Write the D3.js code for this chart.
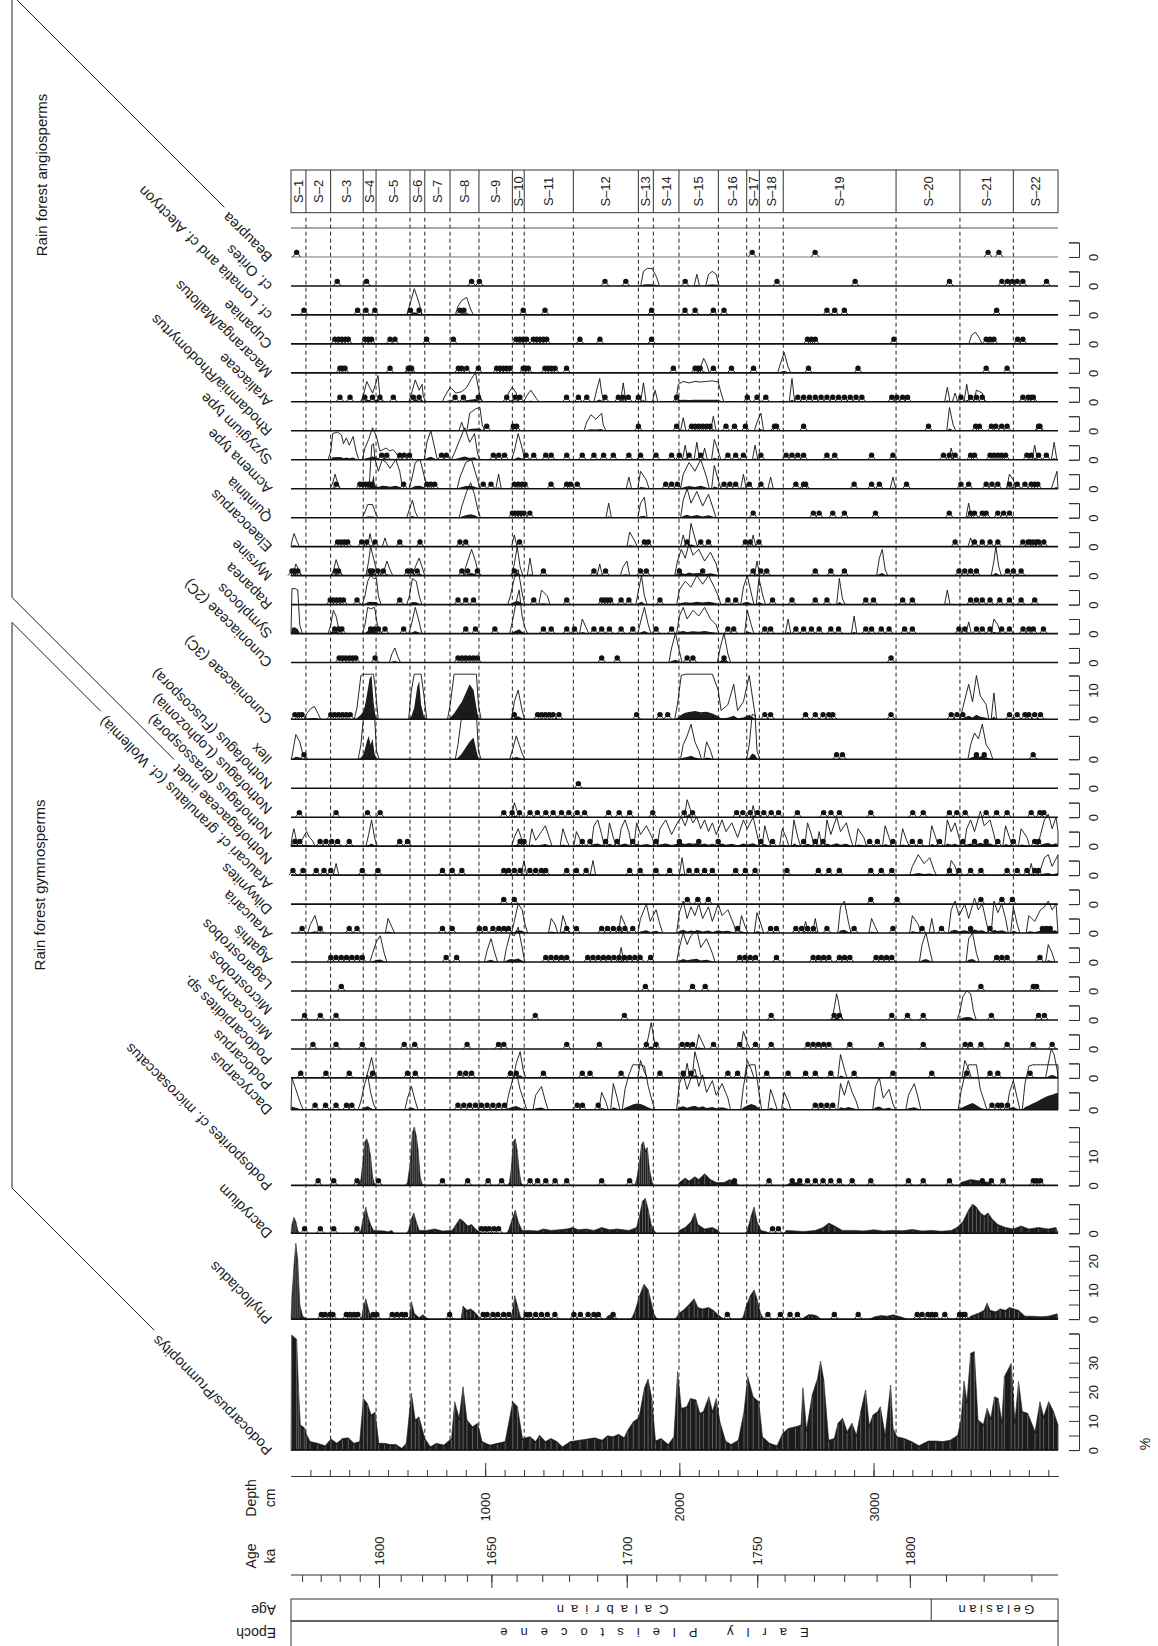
<!DOCTYPE html>
<html>
<head>
<meta charset="utf-8">
<script src="https://cdn.jsdelivr.net/npm/d3@7"></script>
<style>
  body { margin: 0; background: #fff; }
</style>
</head>
<body>
<div id="chart"></div>
<script>
/* CONSTANTS AND GLOBALS */
const width = 1158, height = 1646;
const FONT = "'Liberation Sans', Arial, Helvetica, sans-serif";
const pxPerPct = 2.914;   // vertical px per 1 % pollen
const rowGap = 14.4;
const topLine = 228;
const exagFactor = 10, exagClip = 45;

/* ZONES, AXES */
const zoneNames = ["S–1","S–2","S–3","S–4","S–5","S–6","S–7","S–8","S–9","S–10","S–11",
  "S–12","S–13","S–14","S–15","S–16","S–17","S–18","S–19","S–20","S–21","S–22"];
const zoneBounds = [77,204,372,438,613,689,819,968,1140,1201,1454,1789,1866,1998,2201,2347,2412,2535,3116,3445,3720];
const depthMajor = [1000, 2000, 3000];
const ageTicks = [1560,1570,1580,1590,1600,1610,1620,1630,1640,1650,1660,1670,1680,1690,1700,
  1710,1720,1730,1740,1750,1760,1770,1780,1790,1800,1810,1820,1830];
const ageTickDepths = [57,153,251,354,453,565,675,792,906,1032,1162,1294,1432,1577,1729,
  1881,2001,2134,2263,2401,2542,2693,2849,3016,3187,3373,3567,3813];
const ageMajor = [1600, 1650, 1700, 1750, 1800];
const stageNames = ["Calabrian", "Gelasian"];
const stageBound = 3297;
const epochName = "Early Pleistocene";

/* TAXON LABELS */
const taxonLabels = ["Beaupreа","cf. Orites","cf. Lomatia and cf. Alectryon","Cupaniae","Macaranga/Mallotus",
  "Araliaceae","Rhodamnia/Rhodomyrtus","Syzygium type","Acmena type","Quintinia","Elaeocarpus","Myrsine",
  "Rapanea","Symplocos","Cunoniaceae (2C)","Cunoniaceae (3C)","Ilex","Nothofagus (Fuscospora)",
  "Nothofagus (Lophozonia)","Nothofagus (Brassospora)","Nothofagaceae indet",
  "Araucari cf. granulatus (cf. Wollemia)","Dilwynites","Araucaria","Agathis","Lagarostrobos",
  "Microstrobos","Microcachrys","Podocarpidites sp.","Podocarpus","Dacrycarpus",
  "Podosporites cf. microsaccatus","Dacrydium","Phyllocladus","Podocarpus/Prumnopitys"];
const groupNames = ["Rain forest angiosperms", "Rain forest gymnosperms"];

/* DATA: dots = presence (depth cm), vals = [depth cm, %] */
const beaupreaDots = [29,2375,2699,3590,3646];
const oritesDots = [238,389,930,970,1617,1724,2030,2503,2905,3391,3661,3690,3715,3740,3769,3891];
const oritesVals = [[1815,0.5],[1835,0.6],[1860,0.6],[1883,0.3],[2090,0.4],[2150,0.4],[2170,0.5],[2190,0.4]];
const lomatiaDots = [67,343,386,432,615,660,870,890,1196,1308,1857,2029,2081,2175,2230,2760,2800,2850,3634];
const lomatiaVals = [[610,0.3],[635,0.9],[660,0.4],[860,0.3],[880,0.5],[905,0.6],[925,0.2]];
const cupaniaeDots = [226,245,262,280,295,381,398,415,510,535,698,836,1159,1178,1196,1213,1248,1265,1283,1300,1317,
  1488,1591,1857,2660,2680,2700,3105,3580,3600,3620,3742,3769];
const cupaniaeVals = [[3505,0.3],[3525,0.4],[3545,0.2]];
const macarangaDots = [252,265,278,510,604,612,621,862,879,905,965,1059,1076,1093,1110,1128,1196,1209,1222,1308,
  1325,1342,1360,1419,1969,2081,2094,2107,2175,2268,2382,2665,2920,3580,3688];
const macarangaVals = [[2110,0.2],[2125,0.5],[2140,0.3],[2520,0.3],[2540,0.7],[2560,0.2]];
const araliaDots = [252,304,380,420,458,527,630,660,845,888,965,1111,1154,1179,1419,1480,1523,1617,1686,1710,1737,
  1789,1986,2350,2400,2445,2610,2640,2670,2700,2730,2760,2790,2820,2850,2880,2910,2940,3094,3120,3150,3175,
  3450,3500,3530,3560,3769,3796,3812,3823];
const araliaVals = [[372,0.2],[390,0.7],[405,0.5],[420,0.3],[435,0.6],[448,0.9],[458,0.2],[621,0.3],[640,0.75],
  [660,0.4],[675,0.6],[681,0.2],[793,0.2],[820,0.5],[850,0.3],[880,0.35],[905,0.5],[930,0.8],[950,1.0],[973,0.2],
  [1120,0.3],[1140,0.5],[1160,0.3],[1213,0.2],[1235,0.4],[1265,0.1],[1574,0.4],[1590,0.8],[1600,0.3],[1711,0.65],
  [1815,0.65],[1875,0.4],[1995,0.6],[2020,0.7],[2050,0.65],[2080,0.7],[2110,0.68],[2140,0.7],[2170,0.72],
  [2200,0.68],[2215,0.3],[2580,0.8],[3380,0.5],[3420,0.3],[3480,0.6],[3530,0.4],[3560,0.3]];
const rhodamniaDots = [1008,1145,1162,1789,1986,2063,2081,2100,2120,2140,2158,2240,2284,2340,2490,2500,2640,3283,
  3526,3545,3607,3630,3660,3688,3850,3857];
const rhodamniaVals = [[879,0.3],[920,0.6],[950,0.75],[973,0.8],[985,0.2],[1150,0.2],[1523,0.3],[1545,0.55],
  [1570,0.4],[1600,0.6],[1608,0.2],[2020,0.45],[2175,0.5],[2400,0.3],[2420,0.6],[3391,0.8],[3410,0.2]];
const syzygiumDots = [467,493,560,583,610,775,800,1042,1070,1100,1210,1250,1312,1340,1420,1500,1560,1610,1660,
  1740,1800,1880,1960,2000,2050,2110,2250,2290,2330,2420,2550,2580,2610,2640,2760,2800,2990,3100,3360,3390,
  3420,3500,3520,3600,3620,3640,3660,3680,3790,3812,3850,3890];
const syzygiumVals = [[205,0.3],[215,0.9],[240,0.95],[260,0.85],[270,0.55],[285,0.75],[300,0.5],[320,0.8],[335,0.3],
  [381,0.4],[400,0.7],[420,1.1],[440,0.8],[458,0.3],[490,0.4],[510,0.3],[525,0.35],[545,0.2],[700,0.6],[720,1.0],
  [740,0.4],[840,0.2],[870,0.7],[895,1.1],[920,0.6],[945,0.9],[961,0.2],[1150,0.3],[1170,0.9],[1190,0.4],
  [2030,0.5],[2090,0.6],[2130,0.4],[2180,0.7],[2200,0.3],[2390,0.5],[3400,0.4],[3830,0.5],[3930,0.6]];
const acmenaDots = [233,355,370,385,400,411,580,700,720,740,990,1030,1150,1170,1190,1205,1339,1420,1440,1474,
  1930,1960,1990,2230,2260,2290,2360,2420,2600,2640,2650,2900,2990,3030,3170,3450,3490,3580,3610,3640,3700,
  3740,3780,3812,3830,3846];
const acmenaVals = [[215,0.2],[227,0.5],[240,0.2],[416,1.5],[425,4.8],[433,1.0],[450,0.6],[470,1.0],[490,0.9],
  [510,0.7],[540,1.0],[560,0.6],[570,0.2],[621,0.3],[640,0.9],[665,1.0],[691,0.3],[870,0.4],[900,0.9],[930,1.0],
  [961,0.3],[1069,0.5],[1740,0.4],[1800,0.6],[1830,0.3],[2020,0.5],[2050,0.9],[2080,0.6],[2110,1.0],[2140,0.4],
  [2180,0.8],[2200,0.3],[2330,0.5],[2470,0.4],[3100,0.4],[3700,0.5],[3720,0.3],[3930,0.3],[3945,0.6]];
const quintiniaDots = [1140,1155,1170,1185,1200,1230,2380,2690,2720,2790,2850,3010,3390,3500,3520,3560,3580,3640,3670,3700];
const quintiniaVals = [[381,0.2],[395,0.45],[420,0.45],[433,0.2],[610,0.3],[625,0.6],[640,0.2],[880,0.4],[905,0.9],
  [925,1.2],[945,0.8],[961,0.3],[1636,0.5],[1800,0.5],[1820,0.7],[2020,0.6],[2040,1.0],[2060,0.5],[2090,0.9],
  [2120,0.4],[2150,0.8],[2175,0.3],[3490,0.5]];
const elaeocarpusDots = [240,258,275,292,364,390,433,560,664,870,900,1177,1820,1840,2040,2110,2150,2340,2365,2410,
  3420,3520,3560,3600,3640,3769,3796,3806,3823,3840,3850,3877];
const elaeocarpusVals = [[5,0.2],[16,0.45],[30,0.2],[400,0.2],[407,0.45],[415,0.2],[484,0.3],[1150,0.4],[1744,0.5],
  [1770,0.2],[2020,0.4],[2060,0.8],[2080,0.3],[2380,0.4],[3500,0.3]];
const myrsineDots = [5,18,35,230,245,407,420,448,475,600,620,650,880,910,960,1150,1300,1560,1620,1800,1830,2000,
  2120,2380,2420,2450,2700,2780,2850,3440,3470,3500,3530,3690,3720,3760];
const myrsineVals = [[25,0.4],[40,0.2],[220,0.2],[232,0.55],[250,0.2],[400,0.5],[410,1.0],[425,0.6],[440,0.2],
  [480,0.2],[494,0.5],[510,0.2],[640,0.3],[660,0.6],[675,0.3],[900,0.3],[930,0.9],[950,0.5],[961,0.2],[1150,0.4],
  [1165,1.0],[1180,0.3],[1231,0.6],[1590,0.4],[1710,0.3],[1730,0.5],[1990,0.5],[2010,0.9],[2030,0.6],[2050,1.1],
  [2070,0.7],[2100,0.9],[2130,0.5],[2160,0.8],[2190,0.4],[2400,0.5],[3030,0.6],[3045,0.9],[3060,0.2],[3620,0.5],
  [3630,1.0],[3645,0.3]];
const rapaneaDots = [202,218,235,252,270,340,560,860,900,940,1250,1420,1600,1615,1630,1645,1700,1740,1900,2250,
  2290,2480,2580,2700,2760,2960,3000,3150,3200,3500,3530,3560,3600,3650,3700,3760,3830];
const rapaneaVals = [[381,0.3],[395,0.8],[410,1.0],[425,0.9],[440,0.9],[450,0.3],[610,0.3],[625,0.9],[645,0.8],
  [660,0.3],[1130,0.3],[1150,0.9],[1170,1.2],[1190,0.4],[1290,0.5],[1320,0.3],[1790,0.5],[1805,1.0],[1820,0.3],
  [2000,0.5],[2030,0.8],[2060,0.6],[2090,1.0],[2120,0.7],[2150,1.0],[2180,0.6],[2200,0.3],[2330,0.6],[2350,1.0],
  [2370,0.4],[2410,0.9],[2430,0.3],[2824,0.9],[2840,0.2],[3380,0.5]];
const symplocosDots = [225,245,262,410,430,450,484,580,900,950,1050,1300,1340,1420,1460,1560,1600,1640,1700,1760,
  1880,1960,2250,2280,2440,2470,2600,2640,2680,2720,2780,2820,2960,2990,3040,3080,3160,3200,3440,3470,3530,
  3560,3600,3660,3700,3770,3800,3823,3875];
const symplocosVals = [[5,2],[20,2.2],[35,1.5],[45,0.3],[205,0.3],[218,0.8],[232,0.6],[245,0.2],[381,0.3],[395,0.9],
  [410,0.85],[430,0.9],[445,0.3],[620,0.3],[640,0.9],[660,0.4],[1140,0.4],[1160,1.1],[1175,1.5],[1190,0.6],
  [1205,0.2],[1500,0.5],[1520,0.2],[1800,0.4],[1820,0.9],[1840,0.3],[2000,0.6],[2020,0.9],[2040,0.5],[2070,0.8],
  [2100,0.6],[2130,0.9],[2160,0.5],[2190,0.3],[2350,0.8],[2370,0.3],[2560,0.5],[2900,0.6],[3490,0.4],[3620,0.5],
  [3640,0.3]];
const cuno2Dots = [248,265,282,300,318,334,433,860,880,900,920,940,960,1600,1680,2040,2070,2230,3090];
const cuno2Vals = [[520,0.3],[535,0.5],[550,0.2],[1960,0.5],[1980,1.0],[2000,0.4],[2210,0.5],[2230,1.0],[2250,0.3]];
const cuno3Dots = [20,40,57,205,225,245,265,285,305,1150,1270,1290,1310,1330,1350,1380,1780,1900,1940,2440,2470,
  2650,2700,2740,2770,2790,3090,3400,3430,3460,3700,3740,3780,3800,3830,3860];
const cuno3Vals = [[82,0.2],[100,0.35],[120,0.44],[139,0.2],[340,0.4],[360,1.5],[375,3],[385,6],[395,10],[405,14],
  [415,15],[425,6],[435,1],[620,1],[635,4],[650,11],[660,13],[670,5],[685,0.8],[820,0.5],[840,2],[860,4],[880,6],
  [900,9],[920,12],[940,10],[955,4],[965,0.5],[1150,0.6],[1170,1.0],[1190,0.3],[1990,0.5],[2010,1.5],[2030,2.2],
  [2050,2.5],[2080,2.8],[2110,2.4],[2140,2.6],[2170,2],[2200,1],[2215,0.3],[2250,0.5],[2280,1.2],[2300,0.3],
  [2330,0.6],[2360,1.5],[2380,0.6],[3460,0.4],[3490,1.2],[3510,0.6],[3530,1.5],[3550,0.8],[3580,0.5],[3620,0.9]];
const ilexDots = [67,2810,2840,3530,3570,3822];
const ilexVals = [[5,0.1],[25,0.85],[45,0.6],[60,0.2],[360,0.5],[375,2],[390,6],[400,8],[410,5],[420,7],[430,2],
  [440,0.3],[860,0.5],[880,2],[900,4],[920,6],[940,7.5],[955,3],[965,0.3],[1140,0.3],[1160,0.8],[1175,0.5],
  [1190,0.2],[2020,0.5],[2040,0.8],[2060,1.2],[2080,0.6],[2100,0.3],[2140,0.6],[2160,0.3],[2360,0.5],[2375,2.0],
  [2390,1.5],[2400,0.3],[3500,0.5],[3520,0.9],[3540,0.7],[3560,1.2],[3580,0.5],[3600,0.3]];
const fuscosporaDots = [1480];
const lophozoniaDots = [43,232,394,459,1096,1139,1177,1231,1269,1312,1350,1393,1431,1474,1512,1636,1690,1744,1863,
  2025,2068,2295,2327,2365,2403,2435,2473,2511,2608,2743,2781,2824,2986,3202,3256,3391,3429,3472,3580,3634,
  3688,3812,3857,3877];
const lophozoniaVals = [[1150,0.5],[1165,0.2],[2040,0.6],[2055,0.3],[2380,0.4]];
const brassosporaDots = [20,45,150,180,210,240,300,560,600,1180,1200,1500,1540,1620,1680,1760,1880,2000,2100,2200,
  2420,2480,2640,2700,2740,2980,3020,3100,3200,3240,3340,3460,3520,3580,3640,3720,3830,3850];
const brassosporaVals = [[5,0.3],[15,0.6],[28,0.2],[55,0.2],[80,0.5],[95,0.3],[110,0.2],[400,0.4],[415,0.9],[430,0.3],
  [1150,0.3],[1170,0.6],[1190,0.2],[1240,0.6],[1260,0.2],[1290,0.5],[1310,0.7],[1330,0.3],[1400,0.6],[1420,0.2],
  [1470,0.5],[1490,0.2],[1560,0.7],[1580,0.9],[1600,0.4],[1640,0.8],[1660,0.3],[1700,0.6],[1720,0.9],[1740,0.5],
  [1780,0.8],[1800,0.4],[1830,0.7],[1860,0.3],[1900,0.6],[1930,0.9],[1960,0.4],[1990,0.8],[2010,1.0],[2030,0.7],
  [2050,1.1],[2070,0.8],[2090,1.0],[2110,0.6],[2130,0.9],[2150,0.5],[2170,0.8],[2190,0.4],[2220,0.9],[2240,0.5],
  [2270,0.8],[2300,0.3],[2330,0.9],[2350,0.6],[2380,1.0],[2400,0.4],[2440,0.7],[2460,0.2],[2530,0.6],[2550,0.3],
  [2590,0.9],[2610,0.3],[2660,0.8],[2680,0.4],[2720,0.5],[2760,0.9],[2780,0.4],[2810,1.0],[2830,0.5],[2860,0.8],
  [2880,0.3],[2920,0.6],[2950,0.3],[3060,0.7],[3080,0.3],[3150,0.6],[3170,0.2],[3300,0.7],[3320,0.3],[3380,0.9],
  [3400,0.5],[3420,0.8],[3440,0.3],[3480,0.6],[3500,0.9],[3520,0.5],[3550,1.2],[3570,0.7],[3600,0.9],[3620,0.4],
  [3680,0.7],[3700,0.3],[3760,0.6],[3790,0.3],[3860,0.4],[3880,0.9],[3900,1.1],[3920,0.6],[3940,1.0],[3950,0.5]];
const nothoIndetDots = [10,62,130,170,205,367,448,780,830,880,1096,1120,1150,1180,1230,1260,1290,1312,1420,1470,
  1520,1744,1798,1880,1950,2050,2090,2130,2170,2290,2340,2390,2554,2716,2770,2824,2986,3040,3094,3391,3440,
  3500,3553,3688,3740,3790,3830,3850];
const nothoIndetVals = [[232,0.4],[1200,0.5],[1555,0.5],[2014,0.6],[3200,0.3],[3230,0.7],[3260,0.4],[3290,0.6],
  [3310,0.2],[3400,0.5],[3420,0.3],[3812,0.4],[3860,0.2],[3880,0.6],[3900,0.7],[3920,0.3],[3935,0.5],[3950,0.7]];
const araucariaceaeDots = [1096,1150,2041,2095,2149,2986,3121,3553,3661,3715];
const dilwynitesDots = [57,150,300,340,780,830,970,1000,1040,1070,1096,1120,1420,1470,1600,1630,1660,1690,1720,
  1760,2300,2470,2500,2600,2630,2660,2690,2760,2900,3100,3250,3350,3500,3600,3870,3890,3910];
const dilwynitesVals = [[100,0.3],[124,0.6],[140,0.2],[500,0.5],[520,0.2],[1150,0.4],[1170,1.0],[1190,0.8],
  [1205,0.3],[1340,0.5],[1360,0.3],[1400,0.6],[1420,0.2],[1700,0.6],[1720,0.3],[1800,0.5],[1830,1.0],[1850,0.4],
  [1880,0.8],[1900,0.3],[2000,0.7],[2020,1.1],[2040,0.5],[2060,0.9],[2080,0.6],[2100,1.0],[2120,0.5],[2150,0.9],
  [2170,0.4],[2200,1.0],[2220,0.6],[2250,0.8],[2280,0.3],[2320,0.6],[2340,0.2],[2400,0.7],[2420,0.3],[2650,0.4],
  [2700,0.5],[2830,0.9],[2850,1.1],[2870,0.4],[2990,0.5],[3010,0.2],[3200,0.6],[3230,0.3],[3300,0.5],[3400,0.8],
  [3420,1.1],[3440,0.6],[3470,1.0],[3490,0.5],[3520,1.2],[3540,0.8],[3560,1.0],[3580,0.4],[3620,1.1],[3640,0.7],
  [3660,1.0],[3680,0.5],[3720,0.9],[3740,0.3],[3800,0.6],[3830,0.4],[3860,0.8],[3880,0.9],[3900,1.1],[3920,0.8],
  [3940,1.0]];
const araucariaDots = [205,232,259,286,313,340,367,799,853,1312,1339,1366,1393,1420,1528,1555,1582,1609,1636,1663,
  1690,1717,1744,1771,1798,1852,2311,2338,2365,2392,2500,2689,2716,2743,2770,2824,2851,2878,3013,3040,3067,
  3094,3634,3661,3688,3857];
const araucariaVals = [[420,0.3],[440,0.7],[460,0.9],[480,0.3],[1010,0.4],[1030,0.8],[1050,0.3],[1110,0.5],
  [1130,1.0],[1150,0.9],[1170,1.2],[1190,0.5],[1700,0.5],[2000,0.5],[2020,1.0],[2040,0.6],[2060,0.9],[2090,1.1],
  [2110,0.5],[2140,0.8],[2170,0.3],[3250,0.6],[3270,1.0],[3290,0.4],[3490,0.8],[3510,1.0],[3530,0.3],[3900,0.6],
  [3920,0.3]];
const agathisDots = [259,1825,2068,2133,3553,3823,3840];
const lagarostrobosDots = [70,151,232,1258,1717,2473,2797,2824,3094,3175,3256,3607,3850,3880];
const lagarostrobosVals = [[2800,0.5],[2810,0.9],[2820,0.6],[2830,0.2],[3445,0.3],[3460,0.8],[3480,1.0],
  [3500,0.9],[3515,0.3]];
const microstrobosDots = [113,232,367,583,637,907,1069,1096,1420,1588,1830,1880,2014,2041,2068,2176,2311,2392,
  2473,2662,2689,2716,2743,2770,2878,3040,3256,3472,3499,3553,3688,3822,3920];
const microstrobosVals = [[1840,0.4],[1855,0.9],[1870,0.3],[2100,0.5],[2120,0.2],[2330,0.6],[2350,0.2]];
const microcachrysDots = [50,180,300,420,600,640,870,900,930,1130,1160,1300,1500,1540,1700,1900,2020,2060,2250,
  2300,2450,2560,2650,2700,2780,2900,3100,3300,3480,3600,3640,3806];
const microcachrysVals = [[400,0.3],[415,0.7],[430,0.2],[1160,0.5],[1180,0.9],[1195,0.3],[1800,0.6],[1820,0.2],
  [2040,0.5],[2080,0.9],[2100,0.4],[2350,0.6],[2370,0.3],[2830,0.8],[2850,0.3],[3470,0.6],[3490,0.3],[3900,0.5],
  [3915,1.0],[3930,0.8],[3945,0.3]];
const dacrycarpusDots = [124,178,232,286,313,860,890,920,950,980,1010,1040,1070,1100,1474,1501,1582,2700,2730,
  2760,2790,3610,3640,3660,3690];
const dacrycarpusVals = [[5,1.1],[20,0.8],[35,0.5],[50,0.2],[360,0.3],[380,0.9],[395,1.2],[410,0.6],[425,0.2],
  [600,0.4],[620,0.8],[640,0.3],[1120,0.5],[1140,1.0],[1160,1.3],[1180,0.7],[1200,0.3],[1260,0.5],[1290,0.8],
  [1310,0.3],[1600,0.6],[1620,0.3],[1660,0.9],[1680,0.4],[1720,0.7],[1740,1.2],[1760,1.8],[1780,2.2],[1800,2.0],
  [1820,1.5],[1840,0.8],[1860,0.3],[2000,0.9],[2020,1.2],[2040,0.7],[2060,1.1],[2080,1.4],[2100,0.8],[2120,1.2],
  [2140,0.6],[2170,1.0],[2190,0.5],[2220,0.9],[2250,0.4],[2330,0.8],[2350,1.5],[2370,2.0],[2390,1.6],[2410,0.6],
  [2470,0.7],[2490,0.3],[2540,0.6],[2560,0.3],[2830,0.9],[2850,0.5],[2870,1.0],[2890,0.6],[2910,0.3],[3010,0.8],
  [3030,1.1],[3050,0.4],[3080,0.7],[3100,0.2],[3180,0.5],[3210,0.9],[3230,0.4],[3450,0.6],[3470,1.2],[3490,1.8],
  [3510,2.3],[3530,1.6],[3550,0.7],[3570,0.3],[3700,0.6],[3720,1.0],[3740,0.4],[3780,0.9],[3800,1.5],[3820,2.2],
  [3840,2.8],[3860,3.5],[3880,4.2],[3900,4.8],[3920,5.2],[3935,5.6],[3950,5.8]];

const podosporitesDots = [140,220,340,450,780,910,1015,1085,1231,1270,1312,1360,1420,1600,1744,2284,2462,2581,2620,
  2660,2700,2740,2780,2824,2890,2986,3180,3256,3391,3560,3607,3667,3823,3840,3860];
const podosporitesVals = [[350,1],[360,2],[370,8],[380,15],[390,16],[400,14],[410,10],[420,3],[430,0.5],[600,1],
  [615,8],[625,18],[635,20],[645,17],[655,12],[665,3],[675,0.5],[1125,1],[1135,6],[1145,15],[1155,16],[1165,12],
  [1175,5],[1185,0.8],[1780,2],[1795,8],[1805,14],[1815,15],[1825,12],[1835,13],[1845,6],[1860,1],[2000,1],
  [2030,2.5],[2050,1.5],[2080,3],[2100,2],[2130,4],[2160,2],[2190,1],[2230,1],[2260,2],[2290,1],[2560,0.5],
  [2600,1],[2630,0.5],[3450,1],[3500,2],[3550,1.5],[3600,1]];
const dacrydiumDots = [70,151,220,340,980,1000,1020,1045,1069,2480,2510];
const dacrydiumVals = [[5,3],[15,5.5],[25,4],[35,1],[360,1],[372,5],[385,9],[395,6],[410,3],[425,1],[480,0.8],
  [500,0.5],[520,1],[605,1],[620,5],[632,7],[645,4],[660,1],[700,1],[740,1.5],[780,0.8],[830,1],[850,3],[870,5],
  [890,4],[910,2.5],[930,3],[950,1.5],[970,0.5],[1120,1],[1140,5],[1155,8],[1170,4],[1190,1],[1230,1],[1270,0.8],
  [1300,1.5],[1340,1],[1380,1.2],[1420,1.5],[1450,2],[1480,1.2],[1520,1.5],[1560,1],[1600,2],[1640,1.2],
  [1680,1.5],[1740,1],[1780,2],[1795,6],[1810,11],[1825,12],[1840,8],[1855,3],[1870,1],[2000,1],[2030,2],
  [2060,4],[2080,7],[2095,3],[2130,1.5],[2170,2],[2200,1],[2350,1],[2370,6],[2385,9],[2400,4],[2420,1],[2450,0.5],
  [2550,1],[2600,0.8],[2640,0.6],[2700,1],[2740,2],[2770,3.5],[2800,2.5],[2840,1],[2900,1],[2950,0.8],[3000,1.2],
  [3050,0.8],[3100,1],[3150,0.9],[3200,1.3],[3250,0.8],[3300,1],[3350,0.7],[3400,1],[3430,2],[3460,4],[3490,8],
  [3510,10],[3530,9],[3550,7],[3570,6],[3590,7],[3610,5],[3640,3],[3680,2],[3720,1.5],[3760,2.5],[3800,1.5],
  [3850,2],[3900,1.5],[3940,2]];
const phyllocladusDots = [156,175,200,216,285,305,325,344,423,442,521,545,570,590,817,990,1010,1040,1065,1095,1122,
  1211,1230,1260,1290,1320,1359,1457,1490,1530,1560,1583,1659,2247,2456,2520,2570,2608,2798,2921,3225,3250,
  3280,3300,3320,3367,3443,3460,3471];
const phyllocladusVals = [[5,8],[15,18],[25,26],[35,20],[45,5],[60,1],[75,0.3],[373,4],[385,7],[400,3],[412,1],
  [620,6],[635,2],[660,0.5],[679,1.5],[700,0.3],[886,4.5],[906,3],[925,3.5],[945,2.5],[965,1],[1140,2],[1152,8],
  [1165,5],[1180,1],[1630,1],[1645,1.5],[1660,0.5],[1760,1],[1773,3],[1795,8],[1818,12],[1840,10],[1868,2],
  [1880,0.5],[1985,0.5],[1998,2],[2020,3],[2050,5],[2076,7],[2095,4],[2120,3.5],[2150,4],[2175,3],[2200,1.5],
  [2220,0.4],[2330,1],[2342,4],[2365,8],[2385,10],[2400,7],[2418,2],[2430,0.5],[2640,0.5],[2665,1.5],[2684,1.5],
  [2705,1.2],[2720,0.5],[2990,0.3],[3006,0.8],[3040,1.2],[3070,1],[3100,1.5],[3139,0.8],[3160,0.3],[3490,0.3],
  [3500,1],[3520,1.5],[3540,2],[3570,3],[3585,5.5],[3600,3],[3630,2.5],[3652,3.5],[3680,3],[3700,4],[3725,3.5],
  [3747,3],[3780,1],[3820,1],[3860,0.8],[3900,1],[3946,1.8]];
const podocarpusVals = [[3,39.5],[29,38],[38,22],[48,8.6],[68,7.7],[78,5.7],[98,2.9],[137,2.3],[176,1.5],[206,3.8],
  [236,2.3],[265,4],[295,4.2],[324,2.3],[354,2.9],[373,17.7],[393,16],[413,12],[433,13],[452,2.3],[482,2.3],
  [511,1.9],[541,1.9],[570,0.6],[594,2.3],[620,19.5],[640,10.3],[659,11.4],[689,4],[718,1.1],[748,2.3],[787,1.7],
  [827,4],[843,16.6],[866,10.9],[886,21.7],[906,10.3],[935,8],[961,9.2],[984,2.9],[1024,1.7],[1063,2.3],
  [1103,2.9],[1142,16.6],[1166,14.9],[1192,4],[1231,4.6],[1260,2.9],[1280,5.1],[1310,2.9],[1339,4],[1369,2.9],
  [1398,1.1],[1438,2.9],[1488,3.4],[1526,3.8],[1564,4.2],[1602,3.4],[1630,4.9],[1659,4.6],[1687,5.4],[1716,4.2],
  [1735,6.9],[1763,9.7],[1792,11.1],[1820,21.2],[1839,24.4],[1858,17.7],[1877,3.1],[1906,4],[1943,1.9],
  [1972,4.6],[1991,26.9],[2010,14.3],[2038,14.9],[2057,17.7],[2086,17.2],[2105,12.6],[2124,13.2],[2152,18.3],
  [2171,13.2],[2190,17.7],[2209,9.7],[2238,3.1],[2266,1.9],[2304,3.4],[2333,13.2],[2352,25.2],[2380,18.3],
  [2409,16.6],[2428,4.6],[2465,2.3],[2503,1.5],[2532,5.7],[2560,7.4],[2598,8],[2627,8.6],[2636,21.4],[2655,6.9],
  [2684,18.9],[2712,24.6],[2727,30.5],[2744,24],[2769,3.4],[2798,4],[2817,9.2],[2841,10.9],[2864,6.3],[2889,9.2],
  [2912,5.1],[2934,13.2],[2959,20.6],[2978,8.4],[2997,12],[3022,13.2],[3035,14.9],[3060,5.1],[3088,22.3],
  [3101,7.4],[3120,4.6],[3158,4],[3196,2.9],[3234,1.5],[3282,3.1],[3320,3.1],[3357,2.9],[3395,3.4],[3434,5.1],
  [3452,10.9],[3466,23.7],[3481,16.6],[3500,33.2],[3519,33.8],[3538,10.3],[3566,8.8],[3585,14.3],[3604,10.9],
  [3623,18.3],[3642,17.7],[3661,9.7],[3674,25.2],[3709,29.7],[3728,9.7],[3747,23.5],[3766,13.2],[3794,12.6],
  [3832,6.3],[3857,16.6],[3876,11.4],[3902,16.6],[3927,13.2],[3950,8.6]];

/* ROW TABLE (built from the arrays above) */
const small = {span: 5, ticks: [0, 5], tickLabels: [0]};
const rows = [
  {...small, dots: beaupreaDots, vals: [], faint: true},
  {...small, dots: oritesDots, vals: oritesVals},
  {...small, dots: lomatiaDots, vals: lomatiaVals},
  {...small, dots: cupaniaeDots, vals: cupaniaeVals},
  {...small, dots: macarangaDots, vals: macarangaVals},
  {...small, dots: araliaDots, vals: araliaVals},
  {...small, dots: rhodamniaDots, vals: rhodamniaVals},
  {...small, dots: syzygiumDots, vals: syzygiumVals},
  {...small, dots: acmenaDots, vals: acmenaVals},
  {...small, dots: quintiniaDots, vals: quintiniaVals},
  {...small, dots: elaeocarpusDots, vals: elaeocarpusVals},
  {...small, dots: myrsineDots, vals: myrsineVals},
  {...small, dots: rapaneaDots, vals: rapaneaVals},
  {...small, dots: symplocosDots, vals: symplocosVals},
  {...small, dots: cuno2Dots, vals: cuno2Vals},
  {span: 14.5, ticks: [0, 5, 10, 15], tickLabels: [0, 10], dots: cuno3Dots, vals: cuno3Vals},
  {span: 8.8, ticks: [0, 8], tickLabels: [0], dots: ilexDots, vals: ilexVals},
  {...small, dots: fuscosporaDots, vals: []},
  {...small, dots: lophozoniaDots, vals: lophozoniaVals},
  {...small, dots: brassosporaDots, vals: brassosporaVals},
  {...small, dots: nothoIndetDots, vals: nothoIndetVals},
  {...small, dots: araucariaceaeDots, vals: []},
  {...small, dots: dilwynitesDots, vals: dilwynitesVals},
  {...small, dots: araucariaDots, vals: araucariaVals},
  {...small, dots: agathisDots, vals: []},
  {...small, dots: lagarostrobosDots, vals: lagarostrobosVals},
  {...small, dots: microstrobosDots, vals: microstrobosVals},
  {...small, dots: microcachrysDots, vals: microcachrysVals},
  {span: 6, ticks: [0, 6], tickLabels: [0], dots: dacrycarpusDots, vals: dacrycarpusVals},
  {span: 21, ticks: [0, 5, 10, 15, 20], tickLabels: [0, 10], dots: podosporitesDots, vals: podosporitesVals, main: true},
  {span: 11.5, ticks: [0, 5, 10], tickLabels: [0], dots: dacrydiumDots, vals: dacrydiumVals, main: true},
  {span: 24.5, ticks: [0, 5, 10, 15, 20, 25], tickLabels: [0, 10, 20], dots: phyllocladusDots, vals: phyllocladusVals, main: true},
  {span: 40, ticks: [0, 5, 10, 15, 20, 25, 30, 35, 40], tickLabels: [0, 10, 20, 30], dots: [], vals: podocarpusVals, main: true}
];
let cursor = topLine;
rows.forEach(r => { cursor += rowGap + r.span * pxPerPct; r.base = cursor; });

/* SVG */
const svg = d3.select("#chart").append("svg")
  .attr("width", width).attr("height", height)
  .style("font-family", FONT);

const x = d3.scaleLinear().domain([0, 3950]).range([291, 1058]);
const x0 = x.range()[0], x1 = x.range()[1];

// zone boxes
const zTop = 170, zBot = 212.7;
const zEdges = [0, ...zoneBounds, 3950];
svg.append("rect").attr("x", x0).attr("y", zTop).attr("width", x1 - x0).attr("height", zBot - zTop)
  .attr("fill", "none").attr("stroke", "#333").attr("stroke-width", 1);
svg.selectAll(".zdiv").data(zoneBounds).enter().append("line")
  .attr("x1", d => x(d)).attr("x2", d => x(d)).attr("y1", zTop).attr("y2", zBot)
  .attr("stroke", "#333").attr("stroke-width", 1);
svg.selectAll(".zlab").data(zoneNames).enter().append("text")
  .attr("transform", (d, i) => `translate(${(x(zEdges[i]) + x(zEdges[i + 1])) / 2},${(zTop + zBot) / 2}) rotate(-90)`)
  .attr("dy", "0.35em").attr("text-anchor", "middle").attr("font-size", 13).attr("fill", "#222")
  .text(d => d);

// dashed zone lines
svg.selectAll(".zdash").data(zoneBounds).enter().append("line")
  .attr("x1", d => x(d)).attr("x2", d => x(d)).attr("y1", zBot + 5).attr("y2", rows[rows.length - 1].base)
  .attr("stroke", "#222").attr("stroke-width", 1).attr("stroke-dasharray", "4,3");

// top line
svg.append("line").attr("x1", x0).attr("x2", x1).attr("y1", topLine).attr("y2", topLine)
  .attr("stroke", "#555").attr("stroke-width", 1);

function runs(vals, gapMax, pad) {
  const out = []; let cur = [];
  vals.forEach(p => {
    if (cur.length && p[0] - cur[cur.length - 1][0] > gapMax) { out.push(cur); cur = []; }
    cur.push(p);
  });
  if (cur.length) out.push(cur);
  return out.map(r => [[Math.max(0, r[0][0] - pad), 0], ...r, [Math.min(3950, r[r.length - 1][0] + pad), 0]]);
}

rows.forEach(r => {
  const g = svg.append("g");
  const y = d3.scaleLinear().domain([0, r.span]).range([r.base, r.base - r.span * pxPerPct]);
  const segs = runs(r.vals, r.main ? 60 : 35, r.main ? 10 : 14);

  // exaggeration outline (x10) for minor taxa
  if (!r.main) {
    const exLine = d3.line().x(d => x(d[0])).y(d => Math.max(y(d[1] * exagFactor), r.base - exagClip));
    g.selectAll(".ex").data(segs).enter().append("path")
      .attr("d", exLine).attr("fill", "none").attr("stroke", "#111").attr("stroke-width", 0.9);
  }
  // true values, filled
  const area = d3.area().x(d => x(d[0])).y0(r.base).y1(d => y(d[1]));
  g.selectAll(".ar").data(segs).enter().append("path")
    .attr("d", area).attr("fill", "#1c1c1c").attr("stroke", r.main ? "#1c1c1c" : "none").attr("stroke-width", 0.6);
  if (r.main) {
    g.selectAll(".smp").data(r.vals.filter(d => d[1] > 0.8)).enter().append("line")
      .attr("x1", d => x(d[0])).attr("x2", d => x(d[0]))
      .attr("y1", r.base).attr("y2", d => y(d[1]) + 1.5)
      .attr("stroke", "#8d8d8d").attr("stroke-width", 0.6);
  }
  // baseline
  g.append("line").attr("x1", x0).attr("x2", x1).attr("y1", r.base).attr("y2", r.base)
    .attr("stroke", r.faint ? "#777" : "#111").attr("stroke-width", r.faint ? 1 : 1.6);
  // presence dots with small hats
  g.selectAll(".hat").data(r.dots).enter().append("path")
    .attr("d", d => `M${x(d) - 4},${r.base} L${x(d)},${r.base - 5} L${x(d) + 4},${r.base}`)
    .attr("fill", "none").attr("stroke", "#111").attr("stroke-width", 0.9);
  g.selectAll(".dot").data(r.dots).enter().append("circle")
    .attr("cx", d => x(d)).attr("cy", r.base - 4.6).attr("r", 2.7).attr("fill", "#111");

  // right-hand % scale bracket
  const top = r.ticks[r.ticks.length - 1];
  const ya = d3.scaleLinear().domain([0, top]).range([r.base, r.base - top * pxPerPct]);
  const ax = svg.append("g").attr("transform", "translate(1079,0)")
    .call(d3.axisRight(ya).tickValues(r.ticks).tickSizeInner(-10).tickSizeOuter(-10)
      .tickFormat(d => r.tickLabels.includes(d) ? d : ""))
    .attr("font-family", FONT).attr("font-size", 13);
  ax.select(".domain").attr("stroke", "#333");
  ax.selectAll(".tick line").attr("stroke", "#333");
  ax.selectAll(".tick text").attr("x", 0).attr("y", 0).attr("dy", "0.35em")
    .attr("transform", "translate(14,0) rotate(-90)").attr("text-anchor", "middle").attr("fill", "#222");
});

// taxon labels (rotated, upside down diagonal)
const mid0 = rows[16].base, mid1 = rows[28].base;
function labelY(i) {
  if (i < 16) return rows[i].base - 1;
  if (i <= 30) return mid0 - 1 + (i - 16) * (mid1 - mid0) / 14;
  return rows[i - 2].base - 1;
}
const labelX = 273;
const labels = svg.selectAll(".tax").data(taxonLabels).enter().append("text")
  .attr("transform", (d, i) => `translate(${labelX},${labelY(i)}) rotate(-135)`)
  .attr("font-size", 14.5).attr("fill", "#1a1a1a")
  .text(d => d);

// group brackets
const s2 = Math.SQRT1_2;
const labelNodes = labels.nodes();
function diag(i) {
  const ax0 = labelX, ay0 = labelY(i);
  const len = labelNodes[i].getComputedTextLength() + 6;
  const fx = ax0 - len * s2, fy = ay0 - len * s2;
  const px = 12, py = ay0 - (ax0 - px);
  return {fx, fy, px, py};
}
[[0, 20], [21, 34]].forEach(([a, b]) => {
  const d1 = diag(a), d2 = diag(b);
  svg.append("line").attr("x1", d1.fx).attr("y1", d1.fy).attr("x2", d1.px).attr("y2", d1.py)
    .attr("stroke", "#222").attr("stroke-width", 1);
  svg.append("line").attr("x1", d2.fx).attr("y1", d2.fy).attr("x2", d2.px).attr("y2", d2.py)
    .attr("stroke", "#222").attr("stroke-width", 1);
  svg.append("line").attr("x1", 12).attr("x2", 12).attr("y1", Math.max(0, d1.py)).attr("y2", d2.py)
    .attr("stroke", "#222").attr("stroke-width", 1);
});
svg.append("text").attr("transform", "translate(42,175) rotate(-90)").attr("dy", "0.35em")
  .attr("text-anchor", "middle").attr("font-size", 15).attr("fill", "#1a1a1a").text(groupNames[0]);
svg.append("text").attr("transform", "translate(40,885) rotate(-90)").attr("dy", "0.35em")
  .attr("text-anchor", "middle").attr("font-size", 15).attr("fill", "#1a1a1a").text(groupNames[1]);

// depth axis
const depthY = 1476;
svg.append("g").attr("transform", `translate(0,${depthY})`)
  .call(d3.axisBottom(x).tickValues(d3.range(100, 3950, 100)).tickSize(-6).tickSizeOuter(0).tickFormat(""))
  .call(g => g.selectAll("line, path").attr("stroke", "#333"));
const dMaj = svg.append("g").attr("transform", `translate(0,${depthY})`)
  .call(d3.axisBottom(x).tickValues(depthMajor).tickSize(-13).tickSizeOuter(0).tickFormat(d3.format("d")))
  .attr("font-family", FONT).attr("font-size", 13);
dMaj.selectAll("line, path").attr("stroke", "#333");
dMaj.selectAll(".tick text").attr("y", 0).attr("dy", "0.35em")
  .attr("transform", "translate(0,31) rotate(-90)").attr("text-anchor", "middle").attr("fill", "#222");

// age axis (age-depth model)
const ageX = d3.scaleLinear().domain(ageTicks).range(ageTickDepths.map(d => x(d)));
const ageY = 1575;
svg.append("line").attr("x1", x0).attr("x2", x1).attr("y1", ageY).attr("y2", ageY).attr("stroke", "#333");
svg.append("g").attr("transform", `translate(0,${ageY})`)
  .call(d3.axisTop(ageX).tickValues(ageTicks).tickSize(-7).tickSizeOuter(0).tickFormat(""))
  .call(g => { g.select(".domain").remove(); g.selectAll("line").attr("stroke", "#333"); });
const aMaj = svg.append("g").attr("transform", `translate(0,${ageY})`)
  .call(d3.axisTop(ageX).tickValues(ageMajor).tickSize(-13).tickSizeOuter(0).tickFormat(d3.format("d")))
  .attr("font-family", FONT).attr("font-size", 13);
aMaj.select(".domain").remove();
aMaj.selectAll("line").attr("stroke", "#333");
aMaj.selectAll(".tick text").attr("y", 0).attr("dy", "0.35em")
  .attr("transform", "translate(0,-24) rotate(-90)").attr("text-anchor", "middle").attr("fill", "#222");

// axis titles
function rot(txt, tx, ty, angle, anchor, size) {
  svg.append("text").attr("transform", `translate(${tx},${ty}) rotate(${angle})`)
    .attr("dy", "0.35em").attr("text-anchor", anchor).attr("font-size", size).attr("fill", "#1a1a1a").text(txt);
}
rot("Depth", 251, 1498, -90, "middle", 14);
rot("cm", 270, 1498, -90, "middle", 14);
rot("Age", 251, 1556, -90, "middle", 14);
rot("ka", 270, 1556, -90, "middle", 14);
rot("%", 1145, 1444, -90, "middle", 14);

// stage and epoch boxes
const sTop = 1599, sMid = 1621, sBot = 1652;
svg.append("rect").attr("x", x0).attr("y", sTop).attr("width", x1 - x0).attr("height", sMid - sTop)
  .attr("fill", "none").attr("stroke", "#333");
svg.append("rect").attr("x", x0).attr("y", sMid).attr("width", x1 - x0).attr("height", sBot - sMid)
  .attr("fill", "none").attr("stroke", "#333");
svg.append("line").attr("x1", x(stageBound)).attr("x2", x(stageBound)).attr("y1", sTop).attr("y2", sMid)
  .attr("stroke", "#333");
const stageCenters = [(x0 + x(stageBound)) / 2 - 2, (x(stageBound) + x1) / 2];
const stageSpacing = [7, 3.5];
stageNames.forEach((s, i) => {
  svg.append("text").attr("transform", `translate(${stageCenters[i]},${(sTop + sMid) / 2}) rotate(180)`)
    .attr("dy", "0.35em").attr("text-anchor", "middle").attr("font-size", 13)
    .attr("letter-spacing", stageSpacing[i]).attr("fill", "#1a1a1a").text(s);
});
svg.append("text").attr("transform", `translate(${648},${1633}) rotate(180)`)
  .attr("dy", "0.35em").attr("text-anchor", "middle").attr("font-size", 13)
  .attr("letter-spacing", 13).attr("fill", "#1a1a1a").text(epochName);
rot("Age", 276, 1610, 180, "start", 14);
rot("Epoch", 276, 1633, 180, "start", 14);
</script>
</body>
</html>
